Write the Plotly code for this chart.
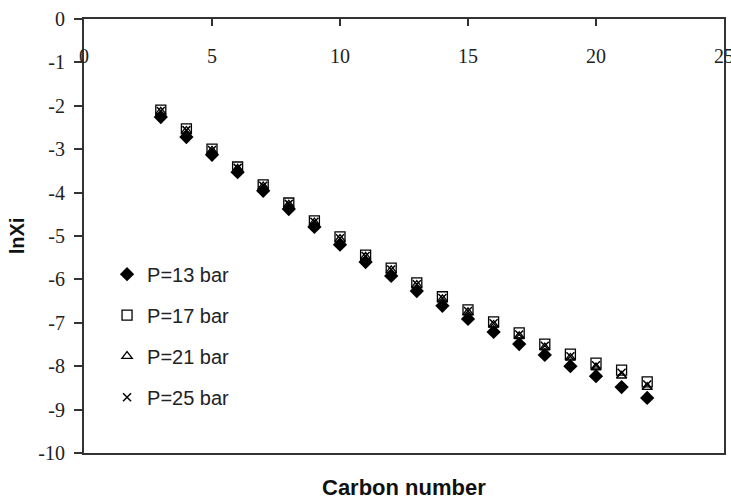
import plotly.graph_objects as go

carbon = list(range(3, 23))
p13 = [-2.26, -2.72, -3.13, -3.53, -3.96, -4.38, -4.79, -5.20, -5.60, -5.92,
       -6.27, -6.61, -6.91, -7.21, -7.49, -7.74, -8.00, -8.23, -8.48, -8.73]
p17 = [-2.10, -2.53, -3.00, -3.41, -3.82, -4.24, -4.65, -5.02, -5.44, -5.74,
       -6.08, -6.40, -6.70, -6.98, -7.23, -7.49, -7.72, -7.93, -8.09, -8.36]
p21 = [-2.14, -2.58, -3.04, -3.45, -3.86, -4.28, -4.69, -5.07, -5.48, -5.79,
       -6.13, -6.46, -6.76, -7.05, -7.31, -7.57, -7.81, -8.03, -8.22, -8.48]
p25 = [-2.12, -2.56, -3.02, -3.43, -3.84, -4.26, -4.67, -5.05, -5.46, -5.77,
       -6.11, -6.43, -6.73, -7.01, -7.27, -7.53, -7.77, -7.98, -8.15, -8.42]
names = ["P=13 bar", "P=17 bar", "P=21 bar", "P=25 bar"]
x_ticks = [0, 5, 10, 15, 20, 25]
y_ticks = list(range(-10, 1))

serif = "Liberation Serif, Times New Roman"
sans = "Liberation Sans, Arial"

fig = go.Figure()
styles = [
    dict(symbol="diamond", size=11, color="black"),
    dict(symbol="square-open", size=10, color="black", line=dict(width=1.3, color="black")),
    dict(symbol="triangle-up-open", size=9, color="black", line=dict(width=1.3, color="black")),
    dict(symbol="x-thin-open", size=8, color="black", line=dict(width=1.5, color="black")),
]
for nm, ys, st in zip(names, [p13, p17, p21, p25], styles):
    fig.add_trace(go.Scatter(x=carbon, y=ys, mode="markers", name=nm,
                             legendgroup=nm, marker=st))
# empty trace so the label-only overlay axis is drawn
fig.add_trace(go.Scatter(x=[None], y=[None], xaxis="x2", showlegend=False,
                         hoverinfo="skip"))

fig.update_layout(
    width=731, height=502,
    margin=dict(l=84, r=7, t=19, b=49),
    paper_bgcolor="white", plot_bgcolor="white",
    showlegend=True,
    legend=dict(x=0.036, y=0.457, xanchor="left", yanchor="top",
                bgcolor="white", borderwidth=0, tracegroupgap=12,
                font=dict(family=sans, size=20, color="#222")),
    xaxis=dict(range=[0, 25], side="top", tickvals=x_ticks, ticks="inside",
               ticklen=7, tickwidth=1.5, tickcolor="#333", showticklabels=False,
               showline=True, linecolor="#333", linewidth=2, mirror=True,
               showgrid=False, zeroline=False, automargin=False),
    xaxis2=dict(range=[0, 25], overlaying="x", anchor="free", position=0.947,
                side="bottom", tickvals=x_ticks, ticktext=[str(v) for v in x_ticks],
                ticks="", showline=False, showgrid=False, zeroline=False,
                ticklabeloverflow="allow", automargin=False,
                tickfont=dict(family=serif, size=20, color="#222")),
    yaxis=dict(range=[-10, 0], tickvals=y_ticks, ticktext=[str(v) for v in y_ticks],
               ticks="outside", ticklen=8, ticklabelstandoff=5,
               tickwidth=1.5, tickcolor="#333",
               showline=True, linecolor="#333", linewidth=2, mirror=True,
               showgrid=False, zeroline=False, automargin=False,
               tickfont=dict(family=serif, size=20, color="#222"),
               title=dict(text="<b>lnXi</b>", standoff=8,
                          font=dict(family=sans, size=20, color="#111"))),
    annotations=[dict(text="<b>Carbon number</b>", xref="paper", yref="paper",
                      x=0.5, y=-0.08, xanchor="center", yanchor="middle",
                      showarrow=False,
                      font=dict(family=sans, size=22, color="#111"))],
)
fig.write_html("out.html")
